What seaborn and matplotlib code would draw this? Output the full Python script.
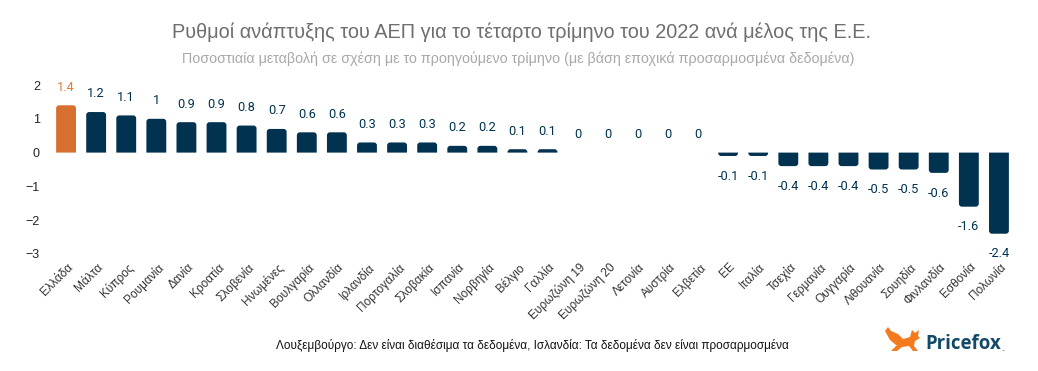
import pandas as pd
import matplotlib.pyplot as plt
import seaborn as sns
from matplotlib.path import Path
from matplotlib.patches import PathPatch, Polygon
from matplotlib.transforms import ScaledTranslation

countries = ['Ελλάδα', 'Μάλτα', 'Κύπρος', 'Ρουμανία', 'Δανία', 'Κροατία', 'Σλοβενία', 'Ηνωμένες',
             'Βουλγαρία', 'Ολλανδία', 'Ιρλανδία', 'Πορτογαλία', 'Σλοβακία', 'Ισπανία', 'Νορβηγία',
             'Βέλγιο', 'Γαλλία', 'Ευρωζώνη 19', 'Ευρωζώνη 20', 'Λετονία', 'Αυστρία', 'Ελβετία',
             'ΕΕ', 'Ιταλία', 'Τσεχία', 'Γερμανία', 'Ουγγαρία', 'Λιθουανία', 'Σουηδία', 'Φινλανδία',
             'Εσθονία', 'Πολωνία']
growth = [1.4, 1.2, 1.1, 1, 0.9, 0.9, 0.8, 0.7, 0.6, 0.6, 0.3, 0.3, 0.3, 0.2, 0.2, 0.1, 0.1,
          0, 0, 0, 0, 0, -0.1, -0.1, -0.4, -0.4, -0.4, -0.5, -0.5, -0.6, -1.6, -2.4]
y_ticks = [-3, -2, -1, 0, 1, 2]

NAVY = '#01324f'
ORANGE = '#d67030'
W, H = 1038, 371

sns.set_theme(style='white')
plt.rcParams['font.family'] = ['Liberation Sans', 'DejaVu Sans']

df = pd.DataFrame({'country': countries, 'growth': growth})
colors = [ORANGE] + [NAVY] * (len(countries) - 1)

fig = plt.figure(figsize=(W / 100, H / 100), dpi=100)
ax = fig.add_axes([51 / W, 1 - 254 / H, (1014 - 51) / W, (254 - 85) / H])
sns.barplot(data=df, x='country', y='growth', hue='country', palette=colors, saturation=1,
            width=0.66, errorbar=None, legend=False, ax=ax)
ax.set_ylim(-3, 2)
ax.set_yticks(y_ticks)
ax.set_xlabel('')
ax.set_ylabel('')
sns.despine(ax=ax, left=True, bottom=True)
ax.tick_params(axis='y', length=0, pad=8, labelsize=9, labelcolor='#222222')
ax.tick_params(axis='x', length=0, pad=5)
plt.setp(ax.get_xticklabels(), rotation=45, ha='right', va='top', rotation_mode='anchor',
         fontsize=8.6, color='#333333')
shift = ScaledTranslation(1 / 100, 0, fig.dpi_scale_trans)
for lab in ax.get_xticklabels():
    lab.set_transform(lab.get_transform() + shift)

# rounded outer corners, in the same data coords as the seaborn bars
rx = 3 / 30.1
ry = 3 / 33.8
for bar in list(ax.patches):
    x0, w, h = bar.get_x(), bar.get_width(), bar.get_height()
    fc = bar.get_facecolor()
    bar.remove()
    if h == 0:
        continue
    sign = 1 if h > 0 else -1
    r = min(ry, abs(h))
    verts = [(x0, 0), (x0, h - sign * r), (x0, h), (x0 + rx, h), (x0 + w - rx, h),
             (x0 + w, h), (x0 + w, h - sign * r), (x0 + w, 0), (x0, 0)]
    codes = [Path.MOVETO, Path.LINETO, Path.CURVE3, Path.CURVE3, Path.LINETO,
             Path.CURVE3, Path.CURVE3, Path.LINETO, Path.CLOSEPOLY]
    ax.add_patch(PathPatch(Path(verts, codes), facecolor=fc, edgecolor='none'))

for i, v in enumerate(growth):
    offset = -14.5 if v < 0 else 13
    ax.annotate(f'{v:g}', (i, v), xytext=(0, offset), textcoords='offset points', ha='center',
                va='center', fontsize=9.2, family='Roboto', color='#e07b3c' if i == 0 else NAVY,
                annotation_clip=False)

fig.text(522 / W, 1 - 32 / H, 'Ρυθμοί ανάπτυξης του ΑΕΠ για το τέταρτο τρίμηνο του 2022 ανά μέλος της Ε.Ε.',
         ha='center', va='center', fontsize=14.3, color='#6e6e6e')
fig.text(518 / W, 1 - 59 / H,
         'Ποσοστιαία μεταβολή σε σχέση με το προηγούμενο τρίμηνο (με βάση εποχικά προσαρμοσμένα δεδομένα)',
         ha='center', va='center', fontsize=10.25, color='#a8a8a8')
fig.text(532 / W, 1 - 345.5 / H,
         'Λουξεμβούργο: Δεν είναι διαθέσιμα τα δεδομένα, Ισλανδία: Τα δεδομένα δεν είναι προσαρμοσμένα',
         ha='center', va='center', fontsize=8.47, color='#111111')

# logo
tail = [(885, 331), (888, 327), (891, 331), (898, 334), (904, 340), (903, 345), (896, 345), (890, 340)]
body = [(900, 340), (910, 337), (912, 330), (915, 333), (919, 330), (918, 336), (920, 338), (915, 341),
        (914, 346), (918, 351), (913, 351), (909, 346), (902, 347), (897, 351), (891, 351), (897, 345)]
for shape in (tail, body):
    fig.add_artist(Polygon([(x / W, 1 - y / H) for x, y in shape], closed=True, transform=fig.transFigure,
                           facecolor='#f47a20', edgecolor='none'))
fig.text(925 / W, 1 - 344 / H, 'Pricefox', ha='left', va='center', fontsize=13.4, fontweight='bold',
         family='Open Sans', color='#12496b')
fig.text(1001 / W, 1 - 351 / H, '.', ha='left', va='baseline', fontsize=8, fontweight='bold', color='#7c99ad')

fig.savefig('out.png', dpi=100)
